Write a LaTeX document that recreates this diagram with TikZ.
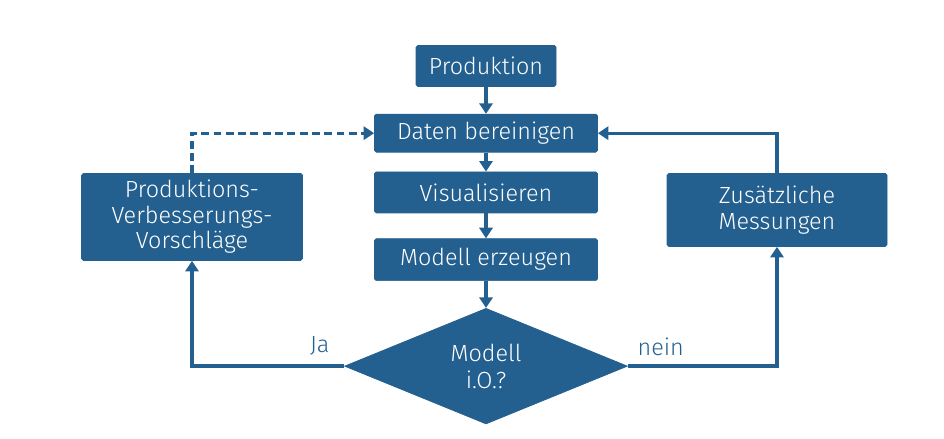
\documentclass[tikz,border=0pt]{standalone}
\usepackage{fontspec}
\setmainfont{Fira Sans}[UprightFont=* Light]
\usepackage{xcolor}
\usepackage{tikz}
\usetikzlibrary{arrows.meta, positioning, shapes.geometric}

\definecolor{flowblue}{RGB}{36,96,143}

\begin{document}
\begin{tikzpicture}[
  node distance=0.5cm,
  box/.style={rectangle, draw=flowblue, fill=flowblue, rounded corners=1pt, text=white, align=center, minimum width=4.46cm, minimum height=0.82cm, inner sep=2pt, font=\fontsize{13.3}{14.5}\selectfont},
  decision/.style={diamond, draw=flowblue, fill=flowblue, text=white, align=center, minimum width=5.66cm, minimum height=2.3cm, inner sep=0pt, font=\fontsize{13.3}{15.5}\selectfont},
  arrow/.style={line width=1.9pt, draw=flowblue, -{Triangle[length=6pt,width=7.5pt]}},
  lbl/.style={text=flowblue, font=\fontsize{13.3}{16}\selectfont, inner sep=2pt, yshift=3pt}
]
\useasboundingbox (0,0) rectangle (18.88,8.78);

\node[box, minimum width=2.8cm] (produktion) at (9.72,7.46) {Produktion};
\node[box, minimum height=0.76cm, below=0.54cm of produktion] (bereinigen) {Daten bereinigen};
\node[box, below=0.38cm of bereinigen] (visual) {Visualisieren};
\node[box, minimum height=0.84cm, below=0.5cm of visual] (modell) {Modell erzeugen};
\node[decision, below=0.54cm of modell] (entscheid) {Modell\\i.O.?};

\node[box, minimum width=4.42cm, minimum height=1.74cm] (vorschlag) at (3.84,4.44) {Produktions-\\Verbesserungs-\\Vorschläge};
\node[box, minimum width=4.4cm, minimum height=1.46cm] (messung) at (15.54,4.58) {Zusätzliche\\Messungen};

\draw[arrow] (produktion) -- (bereinigen);
\draw[arrow] (bereinigen) -- (visual);
\draw[arrow] (visual) -- (modell);
\draw[arrow] (modell) -- (entscheid);

\draw[arrow] (entscheid.west) -| node[lbl, above, pos=0.08] {Ja} (vorschlag.south);
\draw[arrow] (entscheid.east) -| node[lbl, above, pos=0.11] {nein} (messung.south);

\draw[arrow] (messung.north) |- (bereinigen.east);
\draw[arrow, dash pattern=on 4.5pt off 2.5pt] (vorschlag.north) |- (bereinigen.west);
\end{tikzpicture}
\end{document}
